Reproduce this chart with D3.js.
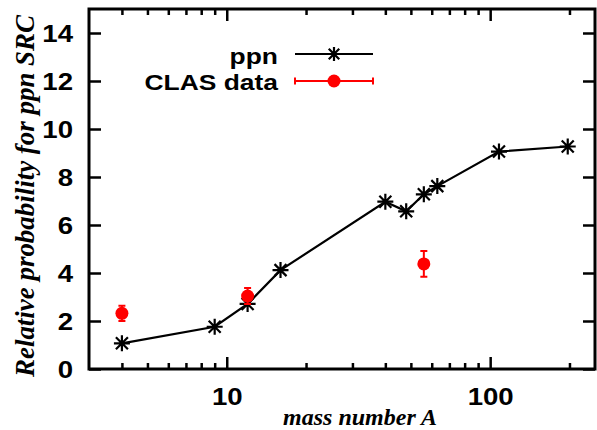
<!DOCTYPE html>
<html>
<head>
<meta charset="utf-8">
<script src="https://cdn.jsdelivr.net/npm/d3@7"></script>
<style>
  body { margin: 0; background: #fff; }
  svg { display: block; }
  .tick text { font-family: "Liberation Sans", Arial, sans-serif; font-weight: bold; font-size: 23px; fill: #000; }
  .tick line { stroke: #000; stroke-width: 2.5; }
  .domain { display: none; }
</style>
</head>
<body>
<div id="chart"></div>
<script>
// mass numbers and ppn SRC probabilities (calculation)
const ppnA = [4, 9, 12, 16, 40, 48, 56, 63, 108, 197];
const ppnP = [1.07, 1.76, 2.71, 4.12, 6.97, 6.57, 7.28, 7.62, 9.06, 9.27];

// CLAS data points
const clasA = [4, 12, 56];
const clasP = [2.32, 3.04, 4.38];
const clasErr = [0.32, 0.33, 0.54];

const xMajor = [10, 100];
const xMinor = [4, 5, 6, 7, 8, 9, 20, 30, 40, 50, 60, 70, 80, 90, 200];
const yTicks = [0, 2, 4, 6, 8, 10, 12, 14];

const width = 597, height = 430;
const plotLeft = 89, plotRight = 595, plotTop = 9, plotBottom = 369;
const widen = 1.2; // the original bold labels are drawn wider than Arial

const svg = d3.select('#chart').append('svg')
  .attr('width', width)
  .attr('height', height);

const x = d3.scaleLog().domain([3, 250]).range([plotLeft, plotRight]);
const y = d3.scaleLinear().domain([0, 15]).range([plotBottom, plotTop]);

// stretch a text horizontally to look like the wide postscript font
function stretch(sel, k) {
  sel.each(function() {
    const w = this.getComputedTextLength();
    d3.select(this).attr('textLength', w * k).attr('lengthAdjust', 'spacingAndGlyphs');
  });
}

// axes, ticks pointing inwards
const xAxis = svg.append('g').attr('transform', `translate(0,${plotBottom})`)
  .call(d3.axisBottom(x).tickValues(xMajor).tickSize(-12).tickSizeOuter(0).tickFormat(d3.format('d')));
xAxis.selectAll('text').attr('y', 36).attr('dy', null);
svg.append('g').attr('transform', `translate(0,${plotBottom})`)
  .call(d3.axisBottom(x).tickValues(xMinor).tickSize(-6).tickSizeOuter(0).tickFormat(''));
svg.append('g').attr('transform', `translate(0,${plotTop})`)
  .call(d3.axisTop(x).tickValues(xMajor).tickSize(-12).tickSizeOuter(0).tickFormat(''));
svg.append('g').attr('transform', `translate(0,${plotTop})`)
  .call(d3.axisTop(x).tickValues(xMinor).tickSize(-6).tickSizeOuter(0).tickFormat(''));
const yAxis = svg.append('g').attr('transform', `translate(${plotLeft},0)`)
  .call(d3.axisLeft(y).tickValues(yTicks).tickSize(-12).tickSizeOuter(0).tickPadding(16));
yAxis.selectAll('text').attr('dy', '0.38em');
svg.append('g').attr('transform', `translate(${plotRight},0)`)
  .call(d3.axisRight(y).tickValues(yTicks).tickSize(-12).tickSizeOuter(0).tickFormat(''));

stretch(svg.selectAll('.tick text'), widen);

// frame
svg.append('rect')
  .attr('x', plotLeft).attr('y', plotTop)
  .attr('width', plotRight - plotLeft).attr('height', plotBottom - plotTop)
  .attr('fill', 'none').attr('stroke', '#000').attr('stroke-width', 3);

// axis titles
svg.append('text')
  .attr('x', 360).attr('y', 425)
  .attr('text-anchor', 'middle')
  .style('font-family', '"Liberation Serif", "Times New Roman", serif')
  .style('font-weight', 'bold').style('font-style', 'italic').style('font-size', '24px')
  .text('mass number A');

svg.append('text')
  .attr('transform', 'translate(34,196) rotate(-90)')
  .attr('text-anchor', 'middle')
  .attr('textLength', 362).attr('lengthAdjust', 'spacingAndGlyphs')
  .style('font-family', '"Liberation Serif", "Times New Roman", serif')
  .style('font-weight', 'bold').style('font-style', 'italic').style('font-size', '27px')
  .text('Relative probability for ppn SRC');

// star marker (gnuplot asterisk)
function star(g, cx, cy, s) {
  const d = s * 0.75;
  g.append('path')
    .attr('d', `M${cx - s},${cy}H${cx + s}M${cx},${cy - s}V${cy + s}` +
      `M${cx - d},${cy - d}L${cx + d},${cy + d}M${cx - d},${cy + d}L${cx + d},${cy - d}`)
    .attr('stroke', '#000').attr('stroke-width', 2.2).attr('fill', 'none');
}

// ppn line
const line = d3.line().x(function(d, i) { return x(ppnA[i]); }).y(function(d) { return y(d); });
svg.append('path')
  .datum(ppnP)
  .attr('d', line)
  .attr('fill', 'none').attr('stroke', '#000').attr('stroke-width', 2.2);

const stars = svg.append('g');
ppnP.forEach(function(p, i) {
  star(stars, x(ppnA[i]), y(p), 8);
});

// CLAS points with error bars
const clas = svg.append('g').attr('fill', '#ff0000').attr('stroke', '#ff0000');
clasP.forEach(function(p, i) {
  const cx = x(clasA[i]);
  const y1 = y(p + clasErr[i]), y0 = y(p - clasErr[i]);
  clas.append('path')
    .attr('d', `M${cx},${y1}V${y0}M${cx - 3.5},${y1}H${cx + 3.5}M${cx - 3.5},${y0}H${cx + 3.5}`)
    .attr('stroke-width', 2).attr('fill', 'none');
  clas.append('circle')
    .attr('cx', cx).attr('cy', y(p)).attr('r', 6.5).attr('stroke', 'none');
});

// legend
const legend = svg.append('g')
  .style('font-family', '"Liberation Sans", Arial, sans-serif')
  .style('font-weight', 'bold').style('font-size', '22px');

legend.append('text').attr('x', 278).attr('y', 64).attr('text-anchor', 'end').text('ppn');
legend.append('line').attr('x1', 295).attr('x2', 373).attr('y1', 54).attr('y2', 54)
  .attr('stroke', '#000').attr('stroke-width', 2.2);
star(legend, 334, 54, 7);

legend.append('text').attr('x', 278).attr('y', 90).attr('text-anchor', 'end').text('CLAS data');
legend.append('path')
  .attr('d', 'M295,81H373M295,77.5V84.5M373,77.5V84.5')
  .attr('stroke', '#ff0000').attr('stroke-width', 2).attr('fill', 'none');
legend.append('circle').attr('cx', 334).attr('cy', 81).attr('r', 6.5).attr('fill', '#ff0000');

stretch(legend.selectAll('text'), widen);
</script>
</body>
</html>
